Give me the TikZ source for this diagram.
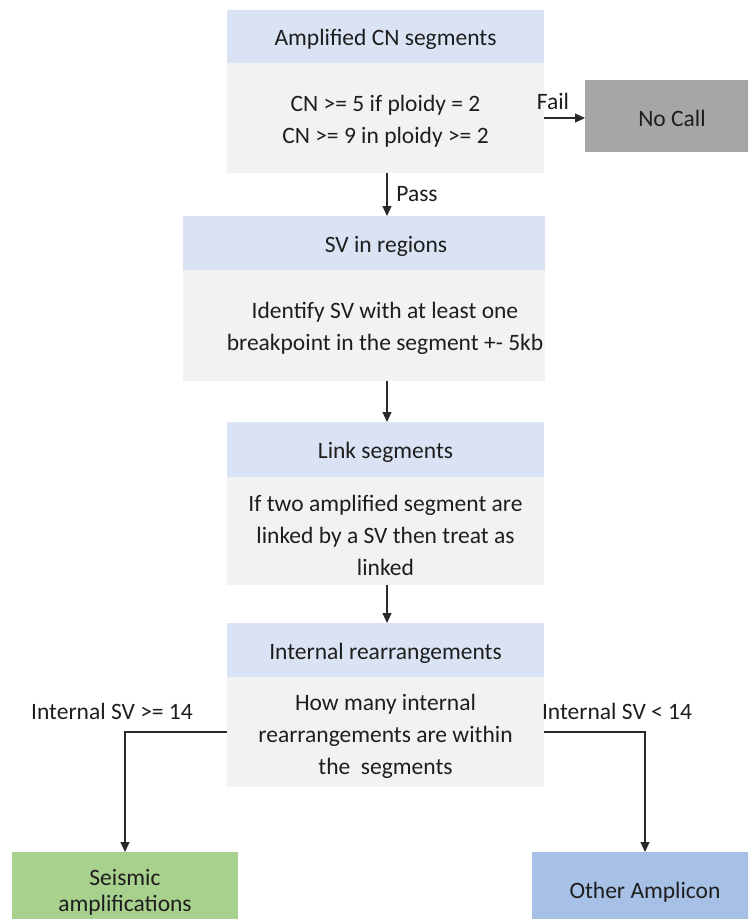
\documentclass[tikz,border=0pt]{standalone}
\usepackage{fontspec}
\setmainfont{Carlito}
\usetikzlibrary{arrows.meta}

\definecolor{headblue}{HTML}{DAE3F3}
\definecolor{bodygray}{HTML}{F2F2F2}
\definecolor{callgray}{HTML}{A6A6A6}
\definecolor{seisgreen}{HTML}{A9D18E}
\definecolor{ampblue}{HTML}{A6C1E5}
\definecolor{ink}{HTML}{1E1E1E}
\definecolor{wire}{HTML}{2A2A2A}

\tikzset{
  panel/.style={anchor=north west, inner sep=0pt, outer sep=0pt, draw=none},
  headbox/.style={panel, fill=headblue},
  bodybox/.style={panel, fill=bodygray},
  txt/.style={inner sep=0pt, text=ink, align=center,
    font=\fontsize{23.5}{32}\selectfont},
  tag/.style={inner sep=0pt, text=ink, font=\fontsize{23.5}{27}\selectfont},
  flow/.style={draw=wire, line width=1.1pt,
    -{Triangle[length=10pt,width=9pt]}}
}

\begin{document}
\begin{tikzpicture}[x=1pt, y=-1pt]
  \clip (0,0) rectangle (748,919);
  \fill[white] (0,0) rectangle (748,919);

  % Step 1: amplified copy-number segments
  \node[headbox, minimum width=317pt, minimum height=53pt] (h1) at (227,10) {};
  \node[txt] (h1t) at ([yshift=-3pt]h1.center) {Amplified CN segments};
  \node[bodybox, minimum width=317pt, minimum height=110pt] (b1) at (227,63) {};
  \node[txt] (b1t) at ([yshift=-3pt]b1.center) {CN >= 5 if ploidy = 2\\CN >= 9 in ploidy >= 2};

  % Rejected branch
  \node[panel, fill=callgray, minimum width=174pt, minimum height=72pt] (nc) at (585,80) {};
  \node[txt] (nct) at ([yshift=-2pt]nc.center) {No Call};

  % Step 2: structural variants in the regions
  \node[headbox, minimum width=362pt, minimum height=54pt] (h2) at (183,216) {};
  \node[txt] (h2t) at (386,246) {SV in regions};
  \node[bodybox, minimum width=362pt, minimum height=111pt] (b2) at (183,270) {};
  \node[txt] (b2t) at (385,328)
    {Identify SV with at least one\\breakpoint in the segment +- 5kb};

  % Step 3: linking
  \node[headbox, minimum width=317pt, minimum height=55pt] (h3) at (227,422) {};
  \node[txt] (h3t) at ([yshift=-3pt]h3.center) {Link segments};
  \node[bodybox, minimum width=317pt, minimum height=108pt] (b3) at (227,477) {};
  \node[txt] (b3t) at ([yshift=-4pt]b3.center)
    {If two amplified segment are\\linked by a SV then treat as\\linked};

  % Step 4: internal rearrangements
  \node[headbox, minimum width=317pt, minimum height=54pt] (h4) at (227,623) {};
  \node[txt] (h4t) at ([yshift=-3pt]h4.center) {Internal rearrangements};
  \node[bodybox, minimum width=317pt, minimum height=110pt] (b4) at (227,677) {};
  \node[txt] (b4t) at ([yshift=-4pt]b4.center)
    {How many internal\\rearrangements are within\\the\ \ segments};

  % Outcomes
  \node[panel, fill=seisgreen, minimum width=226pt, minimum height=76pt] (seis) at (12,852) {};
  \node[txt, font=\fontsize{23.5}{26}\selectfont] (seist) at ([yshift=-2pt]seis.center) {Seismic\\amplifications};
  \node[panel, fill=ampblue, minimum width=226pt, minimum height=76pt] (other) at (532,852) {};
  \node[txt] (othert) at ([yshift=-2pt]other.center) {Other Amplicon};

  % Connectors
  \draw[flow] (b1.east) -- (b1.east -| nc.west);
  \node[tag] (fail) at (553,101) {Fail};

  \draw[flow] (b1.south -| 387,0) -- (h2.north -| 387,0);
  \node[tag] (pass) at (417,194) {Pass};

  \draw[flow] (b2.south -| 387,0) -- (h3.north -| 387,0);
  \draw[flow] (b3.south -| 387,0) -- (h4.north -| 387,0);

  \draw[flow] (b4.west) -| (seis.north);
  \node[tag] (ge) at (112,711) {Internal SV >= 14};
  \draw[flow] (b4.east) -| (other.north);
  \node[tag] (lt) at (617,711) {Internal SV < 14};
\end{tikzpicture}
\end{document}
